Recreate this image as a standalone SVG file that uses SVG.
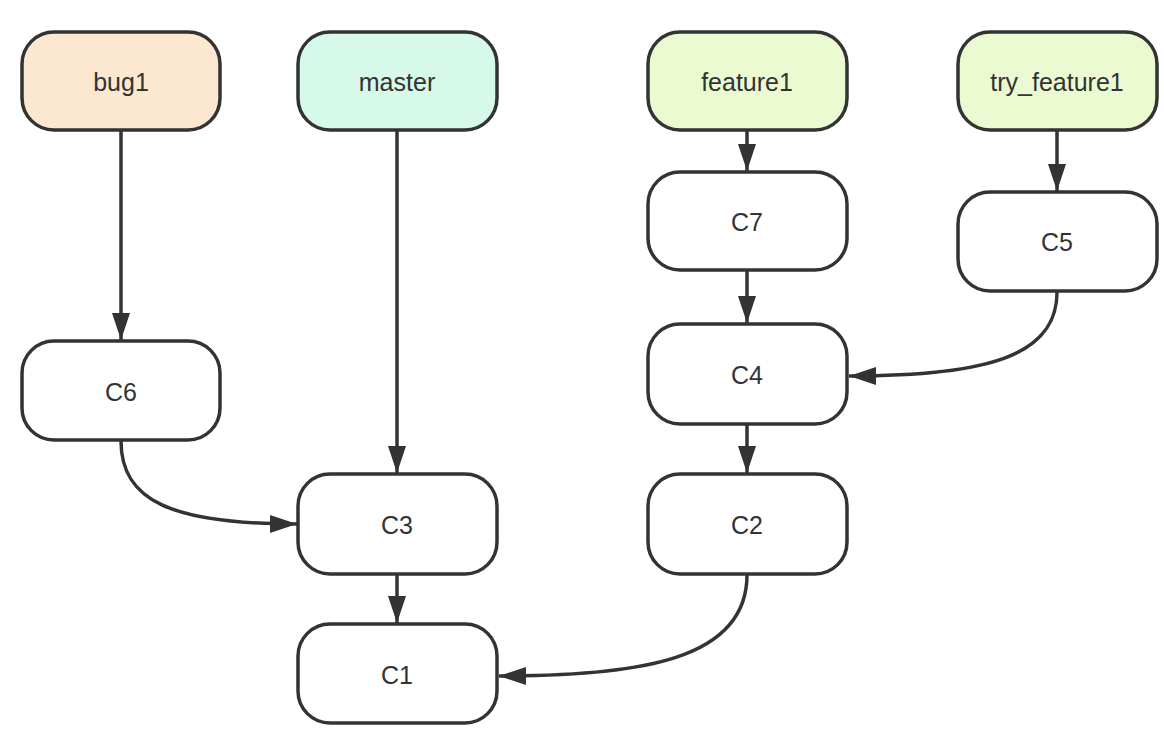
<svg xmlns="http://www.w3.org/2000/svg" width="1164" height="740" viewBox="0 0 1164 740">
<defs>
<style>
.n rect{stroke:#333;stroke-width:3.5;fill:#fff}
.n text{font-family:"Liberation Sans",Arial,sans-serif;font-size:25px;fill:#333;text-anchor:middle;dominant-baseline:central}
.e path{fill:none;stroke:#333;stroke-width:3.5}
</style>
<marker id="ah" markerUnits="userSpaceOnUse" markerWidth="28" markerHeight="20" refX="27" refY="9" orient="auto" viewBox="0 0 28 18">
<path d="M0,0 L27,9 L0,18 z" fill="#333"/>
</marker>
</defs>
<rect width="1164" height="740" fill="#fff"/>
<g class="e" id="connectors">
<path d="M121,131 L121,340" marker-end="url(#ah)"/>
<path d="M397,131 L397,473" marker-end="url(#ah)"/>
<path d="M397,575 L397,623" marker-end="url(#ah)"/>
<path d="M747,131 L747,171" marker-end="url(#ah)"/>
<path d="M747,271 L747,323" marker-end="url(#ah)"/>
<path d="M747,425 L747,473" marker-end="url(#ah)"/>
<path d="M1057,131 L1057,191" marker-end="url(#ah)"/>
<path d="M121,441 C121,500 170,524 297,524" marker-end="url(#ah)"/>
<path d="M1057,292 C1057,355 990,376 849,376" marker-end="url(#ah)"/>
<path d="M747,575 C747,660 640,676 499,676" marker-end="url(#ah)"/>
</g>
<g class="n" id="bug1"><rect x="22" y="32" width="198" height="98" rx="32" style="fill:#FCE7D1"/><text x="121" y="82">bug1</text></g>
<g class="n" id="master"><rect x="298" y="32" width="199" height="98" rx="32" style="fill:#D6F9EA"/><text x="397" y="82">master</text></g>
<g class="n" id="feature1"><rect x="648" y="32" width="199" height="98" rx="32" style="fill:#EBFAD1"/><text x="747" y="82">feature1</text></g>
<g class="n" id="try_feature1"><rect x="958" y="32" width="199" height="98" rx="32" style="fill:#EBFAD1"/><text x="1057" y="82">try_feature1</text></g>
<g class="n" id="C7"><rect x="648" y="172" width="199" height="98" rx="32"/><text x="747" y="222">C7</text></g>
<g class="n" id="C5"><rect x="958" y="192" width="199" height="99" rx="32"/><text x="1057" y="242">C5</text></g>
<g class="n" id="C6"><rect x="22" y="341" width="198" height="99" rx="32"/><text x="121" y="392">C6</text></g>
<g class="n" id="C4"><rect x="648" y="324" width="199" height="100" rx="32"/><text x="747" y="375">C4</text></g>
<g class="n" id="C3"><rect x="298" y="474" width="199" height="100" rx="32"/><text x="397" y="525">C3</text></g>
<g class="n" id="C2"><rect x="648" y="474" width="199" height="100" rx="32"/><text x="747" y="525">C2</text></g>
<g class="n" id="C1"><rect x="298" y="624" width="199" height="99" rx="32"/><text x="397" y="675">C1</text></g>
</svg>
